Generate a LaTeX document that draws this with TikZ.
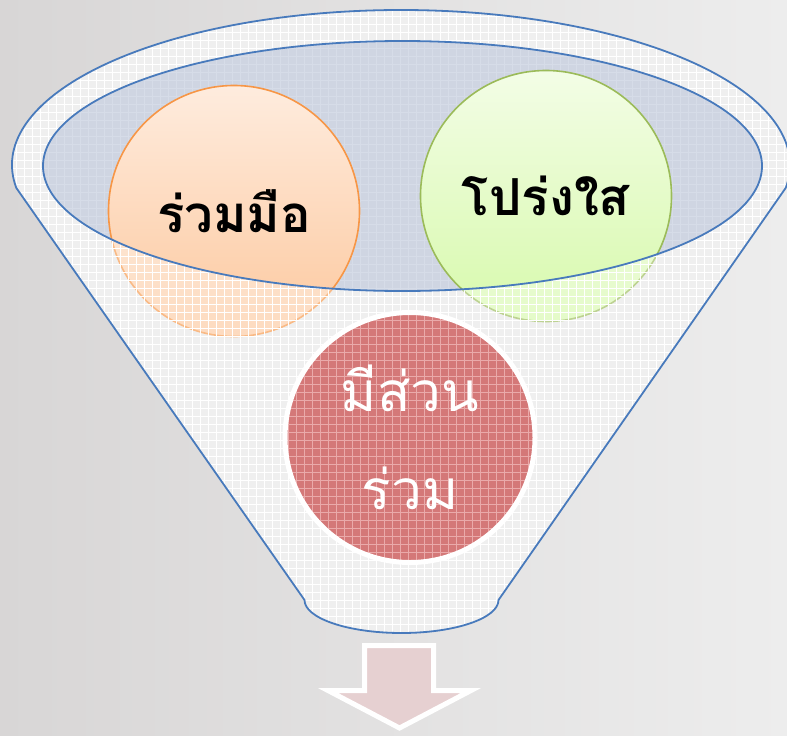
\documentclass[tikz,border=0pt]{standalone}
\usepackage{fontspec}
\newfontfamily\thai[Script=Thai]{Loma}
\usetikzlibrary{patterns}
\pgfdeclarepatternformonly{mygrid}{\pgfqpoint{-1pt}{-1pt}}{\pgfqpoint{9pt}{9pt}}{\pgfqpoint{8pt}{8pt}}{%
  \pgfsetlinewidth{0.8pt}%
  \pgfpathmoveto{\pgfqpoint{0pt}{-0.5pt}}\pgfpathlineto{\pgfqpoint{0pt}{8.5pt}}%
  \pgfpathmoveto{\pgfqpoint{-0.5pt}{0pt}}\pgfpathlineto{\pgfqpoint{8.5pt}{0pt}}%
  \pgfusepath{stroke}}
\definecolor{bgL}{RGB}{216,214,214}
\definecolor{bgR}{RGB}{237,237,237}
\definecolor{body}{RGB}{231,231,231}
\definecolor{bodygrid}{RGB}{242,242,242}
\definecolor{mouth}{RGB}{207,213,226}
\definecolor{mouthgrid}{RGB}{214,220,232}
\definecolor{edge}{RGB}{72,122,188}
\definecolor{orT}{RGB}{254,236,222}
\definecolor{orB}{RGB}{253,200,158}
\definecolor{orS}{RGB}{247,150,70}
\definecolor{grT}{RGB}{243,253,230}
\definecolor{grB}{RGB}{215,249,172}
\definecolor{grS}{RGB}{155,187,89}
\definecolor{rd}{RGB}{212,120,120}
\definecolor{rdgrid}{RGB}{234,170,170}
\definecolor{arw}{RGB}{230,208,209}
\tikzset{
  ball/.style={circle, inner sep=0pt, font=\thai\bfseries\fontsize{51}{56}\selectfont},
  rim/.style={draw=edge, line width=1.8pt},
}
\begin{document}
\begin{tikzpicture}[x=1pt,y=-1pt]
\useasboundingbox (0,0) rectangle (787,736);
\shade[left color=bgL, right color=bgR] (0,0) rectangle (787,736);
% funnel body
\fill[body] (16.3,187.9) arc[start angle=171.5,end angle=368.5,x radius=389,y radius=155]
  -- (498.5,600) arc[start angle=0,end angle=180,x radius=97,y radius=33] -- cycle;
\fill[pattern=mygrid, pattern color=bodygrid] (16.3,187.9) arc[start angle=171.5,end angle=368.5,x radius=389,y radius=155]
  -- (498.5,600) arc[start angle=0,end angle=180,x radius=97,y radius=33] -- cycle;
% mouth
\fill[mouth] (402.5,166) ellipse[x radius=359.5, y radius=125];
\fill[pattern=mygrid, pattern color=mouthgrid] (402.5,166) ellipse[x radius=359.5, y radius=125];
% upper circles
\node[ball, minimum size=251pt, top color=orT, bottom color=orB, draw=orS, line width=1.6pt] (coop) at (234,211) {ร่วมมือ};
\node[ball, minimum size=251pt, top color=grT, bottom color=grB, draw=grS, line width=1.6pt] (clear) at (546,196) {โปร่งใส};
% haze over the lower parts
\fill[white, fill opacity=0.35, even odd rule] (16.3,187.9) arc[start angle=171.5,end angle=368.5,x radius=389,y radius=155]
  -- (498.5,600) arc[start angle=0,end angle=180,x radius=97,y radius=33] -- cycle
  (402.5,166) ellipse[x radius=359.5, y radius=125];
\fill[pattern=mygrid, pattern color=white, fill opacity=0.35, even odd rule] (16.3,187.9) arc[start angle=171.5,end angle=368.5,x radius=389,y radius=155]
  -- (498.5,600) arc[start angle=0,end angle=180,x radius=97,y radius=33] -- cycle
  (402.5,166) ellipse[x radius=359.5, y radius=125];
% outlines
\draw[rim, line join=round] (16.3,187.9) arc[start angle=171.5,end angle=368.5,x radius=389,y radius=155]
  -- (498.5,600) arc[start angle=0,end angle=180,x radius=97,y radius=33] -- cycle;
\draw[rim] (402.5,166) ellipse[x radius=359.5, y radius=125];
% lower circle
\fill[rd] (410,437.5) circle[radius=125];
\fill[pattern=mygrid, pattern color=rdgrid] (410,437.5) circle[radius=125];
\node[circle, inner sep=0pt, minimum size=250pt, draw=white, line width=5pt, text=white, align=center,
  font=\thai\fontsize{55}{98}\selectfont] (part) at (410,437.5) {มีส่วน\\ร่วม};
% arrow
\path (364.5,645.5) coordinate (a1) (433.5,645.5) coordinate (a2);
\fill[arw, draw=white, line width=5pt, line join=miter]
  (a1) -- (a2) -- (433.5,690.5) -- (471,690.5) -- (399.5,728) -- (328,690.5) -- (364.5,690.5) -- cycle;
\end{tikzpicture}
\end{document}
